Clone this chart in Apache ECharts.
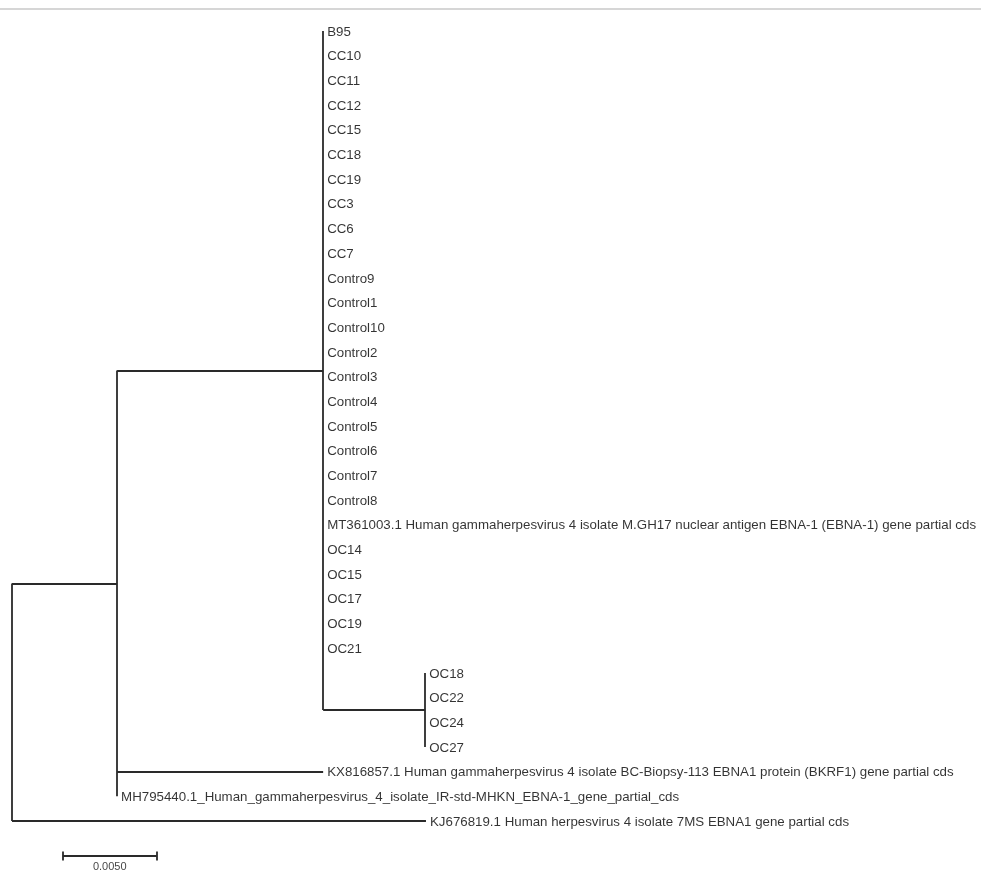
<!DOCTYPE html>
<html>
<head>
<meta charset="utf-8">
<script src="https://cdn.jsdelivr.net/npm/echarts@6/dist/echarts.min.js"></script>
<style>
html,body{margin:0;padding:0;background:#fff;}
#chart{width:981px;height:873px;}
</style>
</head>
<body>
<div id="chart"></div>
<script>
// ---- Tree data (branch lengths in substitutions/site) ----
const nodeNames  = ['root', 'n1', 'n2', 'n3'];
const nodeParent = [null, 'root', 'n1', 'n2'];
const nodeBranch = [0, 0.00559, 0.01096, 0.00543];

const leafNames = [
  'B95','CC10','CC11','CC12','CC15','CC18','CC19','CC3','CC6','CC7',
  'Contro9','Control1','Control10','Control2','Control3','Control4','Control5','Control6','Control7','Control8',
  'MT361003.1 Human gammaherpesvirus 4 isolate M.GH17 nuclear antigen EBNA-1 (EBNA-1) gene partial cds',
  'OC14','OC15','OC17','OC19','OC21',
  'OC18','OC22','OC24','OC27',
  'KX816857.1 Human gammaherpesvirus 4 isolate BC-Biopsy-113 EBNA1 protein (BKRF1) gene partial cds',
  'MH795440.1_Human_gammaherpesvirus_4_isolate_IR-std-MHKN_EBNA-1_gene_partial_cds',
  'KJ676819.1 Human herpesvirus 4 isolate 7MS EBNA1 gene partial cds'
];
const leafParent = [
  'n2','n2','n2','n2','n2','n2','n2','n2','n2','n2',
  'n2','n2','n2','n2','n2','n2','n2','n2','n2','n2',
  'n2',
  'n2','n2','n2','n2','n2',
  'n3','n3','n3','n3',
  'n1',
  'n1',
  'root'
];
const leafBranch = [
  0,0,0,0,0,0,0,0,0,0,
  0,0,0,0,0,0,0,0,0,0,
  0,
  0,0,0,0,0,
  0,0,0,0,
  0.01096,
  0,
  0.02202
];

const scaleBarLength = 0.005;
const scaleBarLabel = '0.0050';

// ---- Layout computation (depth from branch lengths, y from leaf order) ----
const nodeX = {}, nodeY = {};
nodeNames.forEach((n, i) => {
  const p = nodeParent[i];
  nodeX[n] = (p ? nodeX[p] : 0) + nodeBranch[i];
});
const leafX = leafNames.map((n, i) => nodeX[leafParent[i]] + leafBranch[i]);
const leafY = leafNames.map((n, i) => i);

const children = {};
nodeNames.forEach(n => children[n] = []);
leafNames.forEach((n, i) => {
  children[leafParent[i]].push({type: 'leaf', idx: i});
});
nodeNames.forEach((n, i) => {
  const p = nodeParent[i];
  if (p) children[p].push({type: 'node', name: n});
});
function yOf(c) {
  return c.type === 'leaf' ? leafY[c.idx] : computeNodeY(c.name);
}
function computeNodeY(n) {
  if (nodeY[n] !== undefined) return nodeY[n];
  const ys = children[n].map(yOf);
  const mn = Math.min.apply(null, ys), mx = Math.max.apply(null, ys);
  nodeY[n] = (mn + mx) / 2;
  return nodeY[n];
}
nodeNames.forEach(computeNodeY);

const segs = [];
nodeNames.forEach(n => {
  const ys = children[n].map(yOf);
  const mn = Math.min.apply(null, ys), mx = Math.max.apply(null, ys);
  segs.push({coords: [[nodeX[n], mn], [nodeX[n], mx]]});
  children[n].forEach(c => {
    const cx = c.type === 'leaf' ? leafX[c.idx] : nodeX[c.name];
    const cy = yOf(c);
    if (cx > nodeX[n]) segs.push({coords: [[nodeX[n], cy], [cx, cy]]});
  });
});

// scale bar
const sbX0 = 0.0027, sbY = 33.42, sbTick = 0.18;
const scaleSegs = [
  {coords: [[sbX0, sbY], [sbX0 + scaleBarLength, sbY]]},
  {coords: [[sbX0, sbY - sbTick], [sbX0, sbY + sbTick]]},
  {coords: [[sbX0 + scaleBarLength, sbY - sbTick], [sbX0 + scaleBarLength, sbY + sbTick]]}
];

const pxPerUnit = 18800;
const chart = echarts.init(document.getElementById('chart'), null, {renderer: 'canvas'});
chart.setOption({
  animation: false,
  backgroundColor: '#fff',
  graphic: [{
    type: 'line', shape: {x1: 0, y1: 9, x2: 981, y2: 9},
    style: {stroke: '#d6d6d6', lineWidth: 2}
  }],
  grid: {left: 12, top: 31, width: 964, height: 24.6875 * 34},
  xAxis: {type: 'value', min: 0, max: 964 / pxPerUnit, show: false},
  yAxis: {type: 'value', min: 0, max: 34, inverse: true, show: false},
  series: [
    {
      type: 'lines', coordinateSystem: 'cartesian2d', polyline: false,
      silent: true, clip: false,
      lineStyle: {color: '#2a2a2a', width: 1.8, opacity: 1},
      data: segs
    },
    {
      type: 'scatter', symbolSize: 0, silent: true, clip: false,
      data: leafNames.map((n, i) => ({value: [leafX[i], leafY[i]], name: n})),
      label: {
        show: true, position: 'right', distance: 4, offset: [0, 1],
        formatter: p => p.name,
        fontFamily: 'Liberation Sans, Arial, sans-serif', fontSize: 13.3, color: '#000'
      }
    },
    {
      type: 'lines', coordinateSystem: 'cartesian2d', polyline: false,
      silent: true, clip: false,
      lineStyle: {color: '#2a2a2a', width: 1.8, opacity: 1},
      data: scaleSegs
    },
    {
      type: 'scatter', symbolSize: 0, silent: true, clip: false,
      data: [{value: [sbX0 + scaleBarLength / 2, sbY], name: scaleBarLabel}],
      label: {
        show: true, position: 'bottom', distance: 5,
        formatter: p => p.name,
        fontFamily: 'Liberation Sans, Arial, sans-serif', fontSize: 11, color: '#111'
      }
    }
  ]
});
</script>
</body>
</html>
